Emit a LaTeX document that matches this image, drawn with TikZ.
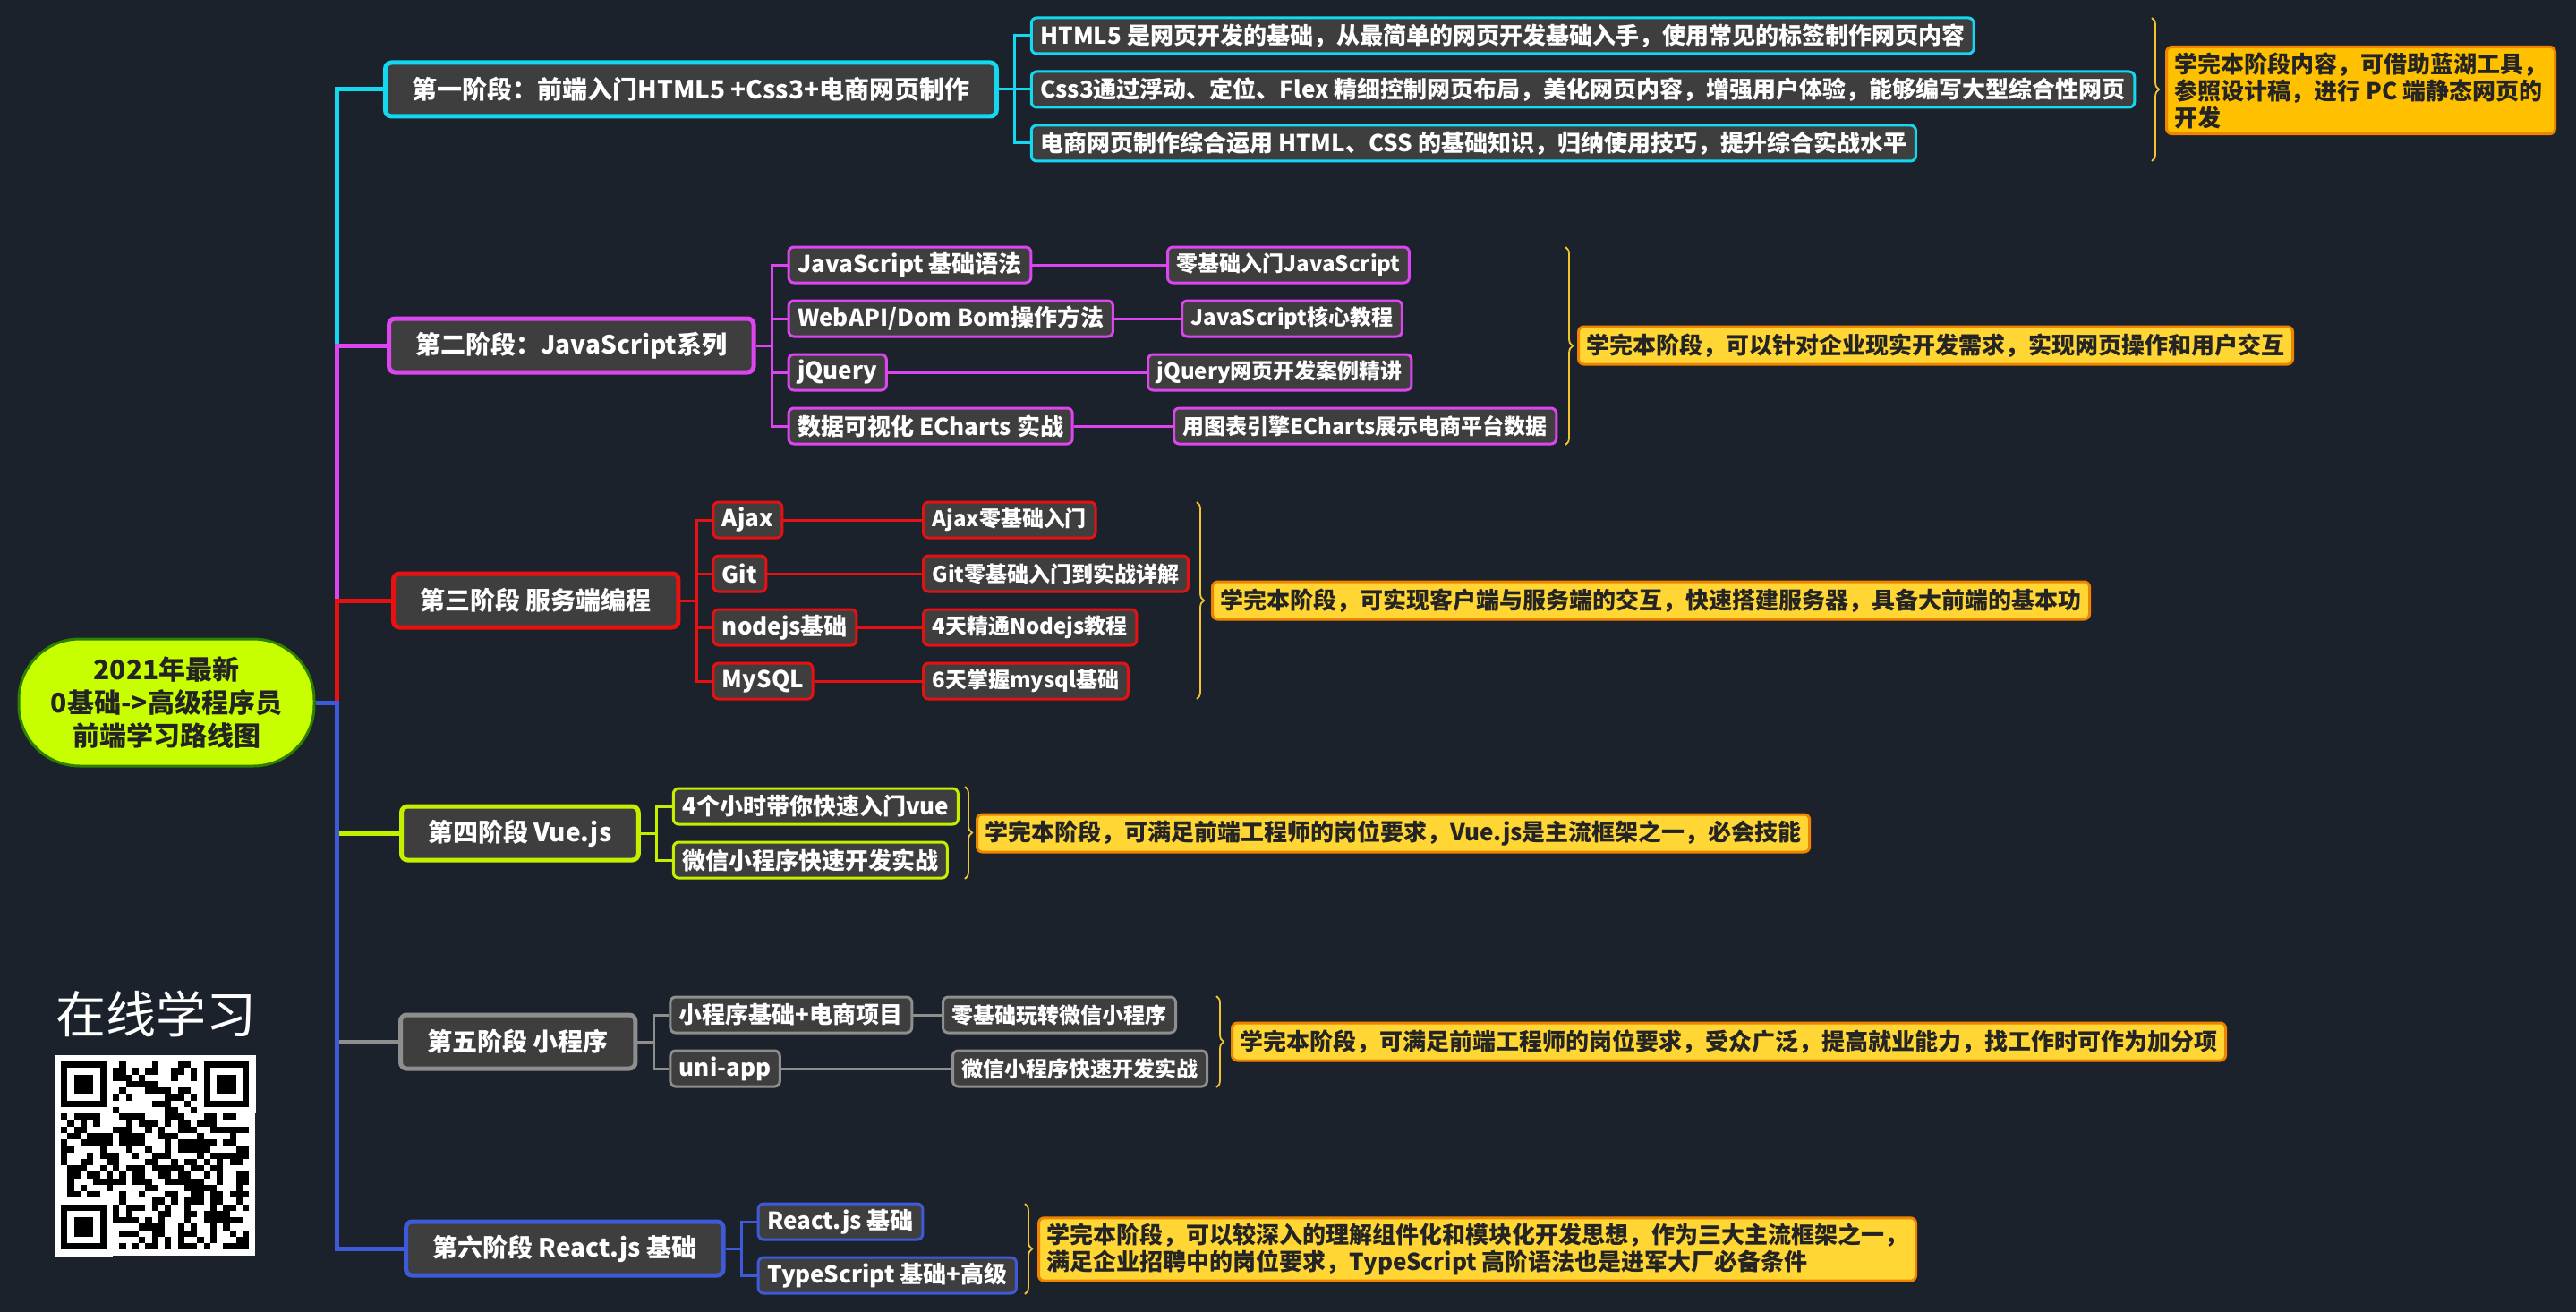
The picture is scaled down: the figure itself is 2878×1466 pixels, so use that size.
\documentclass[tikz,border=0pt]{standalone}
\usepackage{fontspec}
\setmainfont{Noto Sans CJK SC}
\usepackage{tikz}
\usetikzlibrary{positioning,decorations.pathreplacing}

\definecolor{bgcol}{HTML}{1C222B}
\definecolor{boxcol}{HTML}{3E3E3E}
\definecolor{cyancol}{HTML}{12D8F0}
\definecolor{pinkcol}{HTML}{DC45F0}
\definecolor{redcol}{HTML}{E81010}
\definecolor{limecol}{HTML}{C4F000}
\definecolor{greycol}{HTML}{8E8E8E}
\definecolor{bluecol}{HTML}{3E5AD8}
\definecolor{rootfill}{HTML}{C8FF00}
\definecolor{rootedge}{HTML}{2E8000}
\definecolor{notefill}{HTML}{FFD633}
\definecolor{notedeep}{HTML}{FFC000}
\definecolor{noteedge}{HTML}{EE8400}
\definecolor{bracecol}{HTML}{F2C331}
\definecolor{inkcol}{HTML}{242424}

\begin{document}
\begin{tikzpicture}
      [ x=1pt, y=-1pt,
        root/.style={draw=rootedge, line width=3pt, fill=rootfill, rounded corners=68pt,
                     minimum width=330pt, minimum height=142pt, align=center, text=inkcol,
                     font=\fontsize{30}{37}\selectfont\bfseries},
        stage/.style={line width=5pt, rounded corners=7pt, fill=boxcol, text=white,
                      anchor=west, inner xsep=30pt, minimum height=60pt,
                      font=\fontsize{28}{32}\selectfont\bfseries},
        sub/.style={line width=3pt, rounded corners=6pt, fill=boxcol, text=white,
                    inner xsep=10pt, minimum height=40pt,
                    font=\fontsize{26}{30}\selectfont\bfseries},
        leaf/.style={sub, anchor=west, font=\fontsize{24}{28}\selectfont\bfseries},
        note/.style={draw=noteedge, line width=3pt, fill=notefill, rounded corners=6pt,
                     text=inkcol, anchor=west, align=left, inner xsep=9pt, inner ysep=6pt,
                     minimum height=42pt, font=\fontsize{26}{30}\selectfont\bfseries},
        link/.style={line width=5pt},
        twig/.style={line width=3pt},
        curly/.style={draw=bracecol, line width=1.8pt, decorate,
                      decoration={brace, amplitude=8pt}}
      ]
      \path[use as bounding box, fill=bgcol] (0,0) rectangle (2878,1466);

      % root and stages
      \node[root]                (root) at (186,785) {2021年最新\\0基础->高级程序员\\前端学习路线图};
      \node[stage,draw=cyancol]  (s1)   at (428,100)  {第一阶段：前端入门HTML5 +Css3+电商网页制作};
      \node[stage,draw=pinkcol]  (s2)   at (432,386)  {第二阶段：JavaScript系列};
      \node[stage,draw=redcol]   (s3)   at (437,671)  {第三阶段 服务端编程};
      \node[stage,draw=limecol]  (s4)   at (446,931)  {第四阶段 Vue.js};
      \node[stage,draw=greycol]  (s5)   at (445,1164) {第五阶段 小程序};
      \node[stage,draw=bluecol]  (s6)   at (451,1395) {第六阶段 React.js 基础};

      \foreach \s/\c in {s1/cyancol, s2/pinkcol, s3/redcol, s4/limecol, s5/greycol, s6/bluecol}
        \draw[link,\c] (root.east) -- ++(24,0) |- (\s.west);

      % stage 1
      \node[sub,draw=cyancol] (c1a) [right=35pt of s1, yshift=60pt]  {HTML5 是网页开发的基础，从最简单的网页开发基础入手，使用常见的标签制作网页内容};
      \node[sub,draw=cyancol] (c1b) [right=35pt of s1]                {Css3通过浮动、定位、Flex 精细控制网页布局，美化网页内容，增强用户体验，能够编写大型综合性网页};
      \node[sub,draw=cyancol] (c1c) [right=35pt of s1, yshift=-60pt] {电商网页制作综合运用 HTML、CSS 的基础知识，归纳使用技巧，提升综合实战水平};
      \foreach \c in {c1a,c1b,c1c}
        \draw[twig,cyancol] (s1.east) -- ++(18,0) |- (\c.west);

      % stage 2
      \node[sub,draw=pinkcol] (c2a) [right=35pt of s2, yshift=90pt]  {JavaScript 基础语法};
      \node[sub,draw=pinkcol] (c2b) [right=35pt of s2, yshift=30pt]  {WebAPI/Dom Bom操作方法};
      \node[sub,draw=pinkcol] (c2c) [right=35pt of s2, yshift=-30pt] {jQuery};
      \node[sub,draw=pinkcol] (c2d) [right=35pt of s2, yshift=-90pt] {数据可视化 ECharts 实战};
      \node[leaf,draw=pinkcol] (g2a) at (1303,0 |- c2a) {零基础入门JavaScript};
      \node[leaf,draw=pinkcol] (g2b) at (1319,0 |- c2b) {JavaScript核心教程};
      \node[leaf,draw=pinkcol] (g2c) at (1281,0 |- c2c) {jQuery网页开发案例精讲};
      \node[leaf,draw=pinkcol] (g2d) at (1310,0 |- c2d) {用图表引擎ECharts展示电商平台数据};
      \foreach \c/\g in {c2a/g2a,c2b/g2b,c2c/g2c,c2d/g2d}{
        \draw[twig,pinkcol] (s2.east) -- ++(18,0) |- (\c.west);
        \draw[twig,pinkcol] (\c) -- (\g);
      }

      % stage 3
      \node[sub,draw=redcol] (c3a) [right=35pt of s3, yshift=90pt]  {Ajax};
      \node[sub,draw=redcol] (c3b) [right=35pt of s3, yshift=30pt]  {Git};
      \node[sub,draw=redcol] (c3c) [right=35pt of s3, yshift=-30pt] {nodejs基础};
      \node[sub,draw=redcol] (c3d) [right=35pt of s3, yshift=-90pt] {MySQL};
      \node[leaf,draw=redcol] (g3a) at (1030,0 |- c3a) {Ajax零基础入门};
      \node[leaf,draw=redcol] (g3b) at (1030,0 |- c3b) {Git零基础入门到实战详解};
      \node[leaf,draw=redcol] (g3c) at (1030,0 |- c3c) {4天精通Nodejs教程};
      \node[leaf,draw=redcol] (g3d) at (1030,0 |- c3d) {6天掌握mysql基础};
      \foreach \c/\g in {c3a/g3a,c3b/g3b,c3c/g3c,c3d/g3d}{
        \draw[twig,redcol] (s3.east) -- ++(18,0) |- (\c.west);
        \draw[twig,redcol] (\c) -- (\g);
      }

      % stage 4
      \node[sub,draw=limecol] (c4a) [right=35pt of s4, yshift=30pt]  {4个小时带你快速入门vue};
      \node[sub,draw=limecol] (c4b) [right=35pt of s4, yshift=-30pt] {微信小程序快速开发实战};
      \foreach \c in {c4a,c4b}
        \draw[twig,limecol] (s4.east) -- ++(18,0) |- (\c.west);

      % stage 5
      \node[sub,draw=greycol] (c5a) [right=35pt of s5, yshift=30pt]  {小程序基础+电商项目};
      \node[sub,draw=greycol] (c5b) [right=35pt of s5, yshift=-30pt] {uni-app};
      \node[leaf,draw=greycol] (g5a) at (1052,0 |- c5a) {零基础玩转微信小程序};
      \node[leaf,draw=greycol] (g5b) at (1063,0 |- c5b) {微信小程序快速开发实战};
      \foreach \c/\g in {c5a/g5a,c5b/g5b}{
        \draw[twig,greycol] (s5.east) -- ++(18,0) |- (\c.west);
        \draw[twig,greycol] (\c) -- (\g);
      }

      % stage 6
      \node[sub,draw=bluecol] (c6a) [right=35pt of s6, yshift=30pt]  {React.js 基础};
      \node[sub,draw=bluecol] (c6b) [right=35pt of s6, yshift=-30pt] {TypeScript 基础+高级};
      \foreach \c in {c6a,c6b}
        \draw[twig,bluecol] (s6.east) -- ++(18,0) |- (\c.west);

      % braces and notes
      \coordinate (b1t) at (2404,20);   \coordinate (b1b) at (2404,180);
      \coordinate (b2t) at (1749,276);  \coordinate (b2b) at (1749,497);
      \coordinate (b3t) at (1337,561);  \coordinate (b3b) at (1337,781);
      \coordinate (b4t) at (1078,879);  \coordinate (b4b) at (1078,982);
      \coordinate (b5t) at (1359,1113); \coordinate (b5b) at (1359,1215);
      \coordinate (b6t) at (1145,1345); \coordinate (b6b) at (1145,1446);
      \foreach \b in {1,...,6}
        \draw[curly] (b\b t) -- (b\b b);

      \node[note,fill=notedeep] (n1) at (2419,101)  {学完本阶段内容，可借助蓝湖工具，\\参照设计稿，进行 PC 端静态网页的\\开发};
      \node[note] (n2) at (1762,386)  {学完本阶段，可以针对企业现实开发需求，实现网页操作和用户交互};
      \node[note] (n3) at (1353,671)  {学完本阶段，可实现客户端与服务端的交互，快速搭建服务器，具备大前端的基本功};
      \node[note] (n4) at (1090,931)  {学完本阶段，可满足前端工程师的岗位要求，Vue.js是主流框架之一，必会技能};
      \node[note] (n5) at (1375,1164) {学完本阶段，可满足前端工程师的岗位要求，受众广泛，提高就业能力，找工作时可作为加分项};
      \node[note] (n6) at (1159,1396) {学完本阶段，可以较深入的理解组件化和模块化开发思想，作为三大主流框架之一，\\满足企业招聘中的岗位要求，TypeScript 高阶语法也是进军大厂必备条件};

      % online study + qr code
      \node[text=white, font=\fontsize{56}{60}\selectfont] (online) at (174,1133) {在线学习};
      \fill[white] (61,1179) rectangle (285,1403);
      \pgfmathsetseed{2021}
      \foreach \i in {0,...,28}
        \foreach \j in {0,...,28}{
          \pgfmathtruncatemacro\qbit{rnd<0.5}
          \ifnum\qbit=1 \fill[black] ({68+7.25*\i},{1186+7.25*\j}) rectangle ++(7.25,7.25);\fi
        }
      \foreach \fx/\fy in {0/0, 22/0, 0/22}{
        \fill[white] ({68+7.25*(\fx-1)},{1186+7.25*(\fy-1)}) rectangle ++(65.25,65.25);
        \fill[black] ({68+7.25*\fx},{1186+7.25*\fy}) rectangle ++(50.75,50.75);
        \fill[white] ({68+7.25*(\fx+1)},{1186+7.25*(\fy+1)}) rectangle ++(36.25,36.25);
        \fill[black] ({68+7.25*(\fx+2)},{1186+7.25*(\fy+2)}) rectangle ++(21.75,21.75);
      }
      \fill[white] (61,1179) rectangle (68,1403);
      \fill[white] (61,1179) rectangle (285,1186);
\end{tikzpicture}
\end{document}
